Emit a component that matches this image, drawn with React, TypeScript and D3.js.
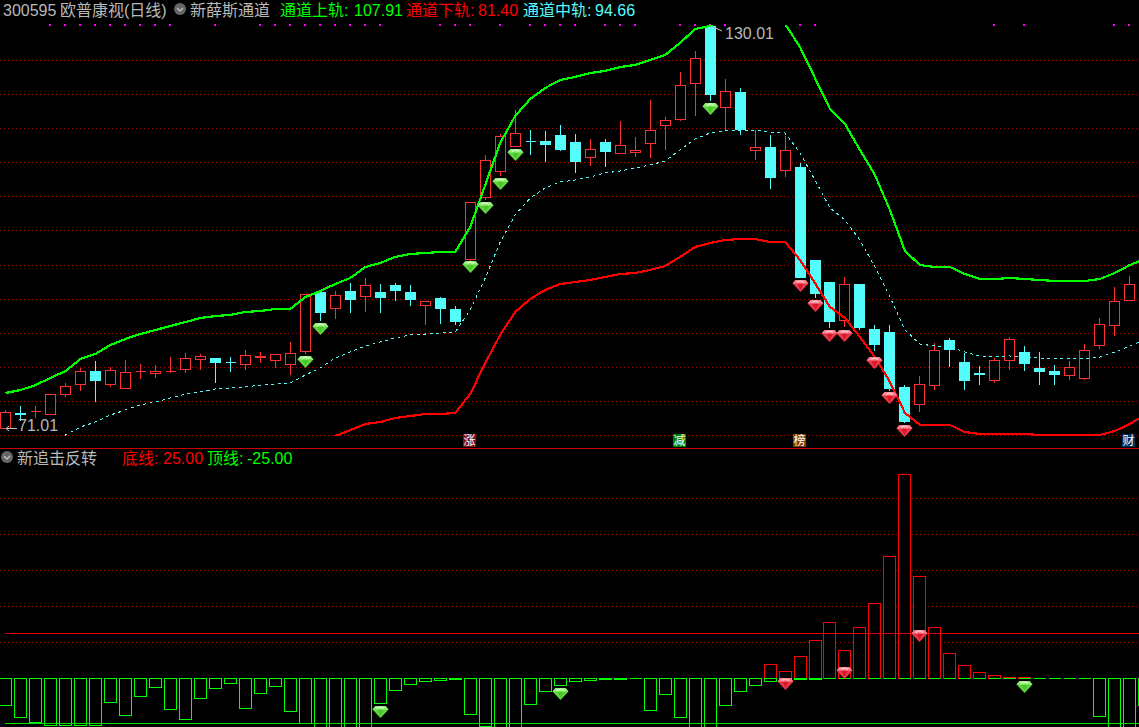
import React from "react";
import * as d3 from "d3";

// price panel: candle values
const opens = [71.00,73.20,73.49,73.05,75.99,77.46,79.37,77.46,76.87,79.37,79.07,79.37,79.66,81.13,81.28,80.69,80.40,81.42,80.98,80.40,82.30,90.96,88.62,91.11,90.38,90.96,91.99,90.96,89.06,90.08,88.47,95.81,104.91,108.73,112.40,113.13,113.13,114.01,112.98,110.78,112.98,111.37,111.52,112.84,115.48,116.36,121.65,130.01,118.12,120.32,111.81,112.25,108.87,109.31,95.66,92.43,86.85,92.14,85.53,85.09,77.02,74.52,77.31,83.92,80.69,79.07,78.05,80.98,82.16,79.81,79.37,78.78,78.34,83.18,86.12,89.79];
const closes = [73.35,73.00,73.49,75.99,77.17,79.37,78.05,79.51,79.22,79.37,79.37,79.37,81.28,81.57,80.69,80.68,81.72,81.57,81.86,82.01,90.67,88.03,90.52,89.94,91.99,90.23,91.26,89.94,89.64,88.62,86.71,104.18,110.34,113.87,114.31,113.12,112.69,111.96,110.20,111.96,111.66,112.54,111.81,114.75,116.21,121.35,125.32,120.03,120.47,114.89,112.25,107.85,111.81,93.17,90.82,86.71,92.14,85.83,83.33,76.87,72.03,77.46,82.45,82.60,78.05,78.93,80.98,84.07,80.54,79.37,78.93,79.96,82.45,86.27,89.64,92.14];
const highs = [73.79,74.38,74.38,75.99,77.75,79.96,80.98,80.10,81.13,80.54,80.40,81.57,82.16,82.01,81.42,81.57,82.60,82.30,82.01,83.77,90.67,90.96,91.26,92.43,93.17,92.29,92.43,92.14,89.64,90.38,89.06,104.18,111.22,114.31,117.83,114.89,114.75,115.63,114.31,113.57,113.57,116.21,113.87,119.30,116.80,123.41,126.49,130.01,122.38,121.06,114.89,114.16,114.01,110.05,95.81,92.58,93.31,92.29,86.27,86.27,77.46,78.78,83.62,84.36,82.16,80.25,81.42,84.51,83.18,82.30,80.40,80.98,83.48,87.29,91.85,93.46];
const lows = [71.01,72.17,72.61,73.05,75.70,76.58,74.96,77.17,76.87,78.34,78.49,79.22,79.22,79.66,77.75,79.37,79.66,80.69,79.96,78.93,82.01,86.85,87.15,88.03,88.17,88.03,89.79,89.06,86.27,86.41,86.27,95.66,104.62,108.14,112.40,111.22,110.20,111.81,108.58,109.61,109.46,111.37,110.93,110.78,111.96,116.21,116.95,119.15,114.89,114.16,110.49,106.23,107.99,93.17,90.23,85.83,85.97,85.53,82.45,76.58,71.88,73.49,76.73,80.10,76.73,77.46,77.75,79.66,79.51,77.46,77.46,78.19,78.19,82.74,84.65,89.79];

// channel lines
const upperBand = [86.08,86.58,87.41,88.58,89.75,91.75,92.58,94.08,95.08,95.91,96.58,97.25,97.91,98.58,98.91,99.08,99.58,99.75,100.08,100.08,102.08,103.08,104.25,105.25,107.08,107.75,108.75,109.25,109.41,109.58,109.58,113.75,120.75,127.75,132.25,135.08,136.91,138.25,138.75,139.41,139.75,140.41,140.75,141.58,142.41,144.41,146.75,147.25,149.08,150.58,151.25,150.58,147.58,143.75,138.58,133.41,130.91,126.58,122.41,116.58,109.75,107.41,107.08,107.08,105.91,105.08,105.08,105.25,105.08,104.91,104.75,104.75,104.75,105.08,106.08,107.41,108.41];
const lowerBand = [63.08,64.25,65.75,66.91,68.41,69.08,69.91,70.75,71.41,72.25,72.58,73.25,73.91,73.91,74.58,74.75,74.58,75.08,75.08,75.25,76.08,77.41,78.91,79.91,80.91,81.25,81.91,82.25,82.58,82.58,82.75,85.91,91.08,95.75,99.58,101.75,103.25,104.25,104.58,104.91,105.41,105.91,106.08,106.58,107.25,108.75,110.41,111.08,111.58,111.75,111.75,111.25,111.25,108.25,104.41,100.41,98.58,95.41,92.08,87.91,82.75,80.75,80.75,80.75,79.58,79.25,79.25,79.25,79.25,79.08,79.08,79.08,79.08,79.08,79.75,80.91,82.41];
const midBand = [74.58,75.41,76.58,77.75,79.08,80.41,81.25,82.41,83.25,84.08,84.58,85.25,85.91,86.25,86.75,86.91,87.08,87.41,87.58,87.75,89.08,90.25,91.91,92.91,93.91,94.58,95.25,95.75,95.91,96.08,96.25,99.91,105.25,111.25,115.75,118.58,120.25,121.25,121.58,122.08,122.75,123.08,123.58,124.08,124.75,126.58,128.41,129.41,129.75,129.91,129.91,129.58,129.41,126.08,121.58,116.91,114.91,111.58,107.08,102.08,96.58,94.25,93.91,93.75,92.91,92.25,92.08,92.25,92.08,91.91,91.75,91.75,91.75,92.08,92.91,93.91,94.91];

// reversal panel: two bar series
const redBars = [0,0,0,0,0,0,0,0,0,0,0,0,0,0,0,0,0,0,0,0,0,0,0,0,0,0,0,0,0,0,0,0,0,0,0,0,0,0,0,0,0,0,0,0,0,0,0,0,0,0,0,7.8,3.9,12.2,21.1,31.1,15.6,28.3,41.7,67.8,113.3,56.7,28.3,13.9,7.2,3.3,1.7,0.6,0.6,0,0,0,0,0,0,0,0];
const greenBars = [-15,-21.7,-24.4,-26.1,-26.1,-26.1,-26.1,-13.3,-20.6,-10,-5,-17.2,-22.8,-11.1,-5.6,-2.8,-16.7,-8.3,-4.4,-18.3,-25,-30,-30,-30,-30,-13.9,-6.9,-3.3,-1.9,-1.3,-0.6,-20.2,-26.7,-30,-30,-14.6,-7.4,-4.1,-1.9,-1.3,-0.7,-0.7,-0.2,-18,-9.1,-21.9,-30,-30,-15.2,-7.4,-4.1,-1.7,-0.8,-0.4,-0.4,0,0,0,0,0,0,0,0,0,0,0,0,0,0,0,0,0,0,-21.3,-30,-30,-15];

const gridPrices = [125,120,115,110,105,100,95,90,85,80,75,70];
const gridOsc = [20,40,60,80,100];
const markerIdx = [3,4,5,6,7,8,9,10,11,14,17,18,19,20,21,22,23,24,25,29,30,31,33,35,36,37,38,40,41,42,45,46,47,48,53,54,66,68,74,75];

// signal gems: [candle index, price or oscillator value of the gem's top]
const gemsPriceBuy: [number, number][] = [[20,81.57],[21,86.41],[31,95.51],[32,104.18],[33,107.70],[34,111.96],[47,118.71]];
const gemsPriceSell: [number, number][] = [[53,92.73],[54,89.79],[55,85.39],[56,85.39],[58,81.42],[59,76.29],[60,71.44]];
const gemsOscBuy: [number, number][] = [[25,-15.6],[37,-5.6],[68,-1.7]];
const gemsOscSell: [number, number][] = [[52,0],[56,6.1],[61,26.7]];

const newsTags: [number, string, string][] = [[31,"涨","#801010"],[45,"减","#008000"],[53,"榜","#804000"],[75,"财","#003060"]];

const W = 1139, H = 727;
const RED = "#ff3232", CYAN = "#54fcfc", GREY = "#b8b8b8", GRID = "#a80000";
const FONT = "'Liberation Sans', 'Noto Sans CJK SC', sans-serif";

const xRaw = d3.scaleLinear().domain([0, 75]).range([5.55, 1129.8]);
const x = (i: number) => Math.floor(xRaw(i)) + 0.5;
const yPrice = d3.scaleLinear().domain([130.01, 71.01]).range([26, 428]);
const yBand = d3.scaleLinear().domain([151.58, 81.58]).range([0, 420]);
const yOsc = d3.scaleLinear().domain([0, 100]).range([678, 498]);
const snap = (v: number) => Math.round(v) + 0.5;

const lineOf = d3.line<number>().x((_, i) => xRaw(i)).y((v) => yBand(v));
const boxPath = (l: number, r: number, a: number, b: number) => `M${l},${a}H${r}V${b}H${l}Z`;

function Gem({ cx, top, buy }: { cx: number; top: number; buy: boolean }) {
  const body = buy ? "#62d640" : "#e8384a";
  const light = buy ? "#d8ffcc" : "#ffd0d0";
  const mid = buy ? "#98ee7c" : "#ff8090";
  return (
    <g transform={`translate(${cx},${top})`}>
      <path d="M-5,0H5L8,3.5L0,12L-8,3.5Z" fill={body} />
      <path d="M-5,0H5L8,3.5H-8Z" fill={mid} />
      <path d="M-3.5,2.5Q0,-0.5,3.5,2.5" fill="none" stroke={light} strokeWidth={1.2} />
      <path d="M-3,4L0,10L3,4Z" fill={buy ? "#48c828" : "#d81828"} />
    </g>
  );
}

function Chip({ cx, cy }: { cx: number; cy: number }) {
  return (
    <g>
      <circle cx={cx} cy={cy} r={6} fill="#666666" />
      <path d={`M${cx - 3},${cy - 1}L${cx},${cy + 2}L${cx + 3},${cy - 1}`} fill="none" stroke="#c8c8c8" strokeWidth={1.2} />
    </g>
  );
}

function T({ px, py, fill, children }: any) {
  return <text x={px} y={py} fill={fill} fontFamily={FONT} fontSize={16}>{children}</text>;
}

export default function App() {
  return (
    <svg width={W} height={H} viewBox={`0 0 ${W} ${H}`} style={{ position: "absolute", left: 0, top: 0, background: "#000", display: "block" }}>
      <defs>
        <clipPath id="pricePane"><rect x={0} y={25} width={W} height={411} /></clipPath>
      </defs>

      {/* grid */}
      <g shapeRendering="crispEdges" stroke={GRID} strokeDasharray="1 3">
        {gridPrices.map((p) => <line key={p} x1={0} x2={1138} y1={snap(yPrice(p))} y2={snap(yPrice(p))} />)}
        {gridOsc.map((v) => <line key={v} x1={0} x2={1138} y1={snap(yOsc(v))} y2={snap(yOsc(v))} />)}
      </g>

      {/* header */}
      <T px={3} py={16} fill={GREY}>300595</T>
      <T px={60} py={16} fill={GREY}>欧普康视(日线)</T>
      <Chip cx={180} cy={9} />
      <T px={190} py={16} fill={GREY}>新薛斯通道</T>
      <T px={280} py={16} fill="#00ff00">通道上轨:</T>
      <T px={354} py={16} fill="#00ff00">107.91</T>
      <T px={406} py={16} fill="#ff0000">通道下轨:</T>
      <T px={478} py={16} fill="#ff0000">81.40</T>
      <T px={523} py={16} fill={CYAN}>通道中轨:</T>
      <T px={595} py={16} fill={CYAN}>94.66</T>

      {/* daily markers */}
      <g shapeRendering="crispEdges" fill="#ff00ff">
        {markerIdx.map((i) => <rect key={i} x={x(i) - 1.5} y={24} width={2} height={2} />)}
      </g>

      {/* candles */}
      <g shapeRendering="crispEdges">
        {opens.map((o, i) => {
          const c = closes[i];
          const up = c >= o;
          const col = up ? RED : CYAN;
          const xc = x(i);
          const a = snap(yPrice(Math.max(o, c)));
          const b = snap(yPrice(Math.min(o, c)));
          return (
            <g key={i}>
              <line x1={xc} x2={xc} y1={snap(yPrice(highs[i]))} y2={snap(yPrice(lows[i]))} stroke={col} />
              <path d={boxPath(xc - 5, xc + 5, a, b)} fill={up ? "#000" : col} stroke={col} />
            </g>
          );
        })}
      </g>

      {/* channel */}
      <g clipPath="url(#pricePane)" fill="none" shapeRendering="crispEdges">
        <path d={lineOf(midBand) || ""} stroke={CYAN} strokeDasharray="3 3.5" />
        <path d={lineOf(upperBand) || ""} stroke="#00ff00" strokeWidth={2.2} />
        <path d={lineOf(lowerBand) || ""} stroke="#ff0000" strokeWidth={2.2} />
      </g>

      {gemsPriceBuy.map(([i, v]) => <Gem key={`b${i}`} cx={x(i)} top={yPrice(v)} buy />)}
      {gemsPriceSell.map(([i, v]) => <Gem key={`s${i}`} cx={x(i)} top={yPrice(v)} buy={false} />)}

      {/* extreme labels */}
      <g stroke="#c0c0c0" fill="none">
        <path d="M713.5,27L722,31" />
        <path d="M17,428.5H6M9,426L6,428.5L9,431" />
      </g>
      <T px={725} py={39} fill={GREY}>130.01</T>
      <T px={18} py={431} fill={GREY}>71.01</T>

      {/* news tags */}
      {newsTags.map(([i, s, bg]) => (
        <g key={s}>
          <rect x={x(i) - 7.5} y={434} width={13} height={13} fill={bg} />
          <text x={x(i) - 1} y={445} fill="#fff" fontFamily={FONT} fontSize={12} textAnchor="middle">{s}</text>
        </g>
      ))}

      {/* divider */}
      <line x1={0} x2={W} y1={448.5} y2={448.5} stroke="#c80000" shapeRendering="crispEdges" />

      {/* lower header */}
      <Chip cx={7} cy={457} />
      <T px={17} py={464} fill={GREY}>新追击反转</T>
      <T px={122} py={464} fill="#ff0000">底线:</T>
      <T px={163} py={464} fill="#ff0000">25.00</T>
      <T px={207} py={464} fill="#00ff00">顶线:</T>
      <T px={247} py={464} fill="#00ff00">-25.00</T>

      {/* oscillator bars */}
      <g shapeRendering="crispEdges" fill="#000">
        {redBars.map((v, i) => (v > 0 ? (
          <path key={i} d={boxPath(x(i) - 6, x(i) + 6, snap(yOsc(v)), snap(yOsc(0)))} stroke="#ff0000" />
        ) : null))}
        {greenBars.map((v, i) => (
          <path key={i} d={boxPath(x(i) - 6, x(i) + 6, snap(yOsc(0)), snap(yOsc(v)))} stroke="#00ff00" fill={v < 0 ? "#000" : "none"} />
        ))}
      </g>
      <g shapeRendering="crispEdges">
        <line x1={5} x2={W} y1={snap(yOsc(25))} y2={snap(yOsc(25))} stroke="#e00000" />
        <line x1={5} x2={W} y1={snap(yOsc(-25))} y2={snap(yOsc(-25))} stroke="#00e000" />
      </g>

      {gemsOscBuy.map(([i, v]) => <Gem key={`ob${i}`} cx={x(i)} top={yOsc(v)} buy />)}
      {gemsOscSell.map(([i, v]) => <Gem key={`os${i}`} cx={x(i)} top={yOsc(v)} buy={false} />)}
    </svg>
  );
}
